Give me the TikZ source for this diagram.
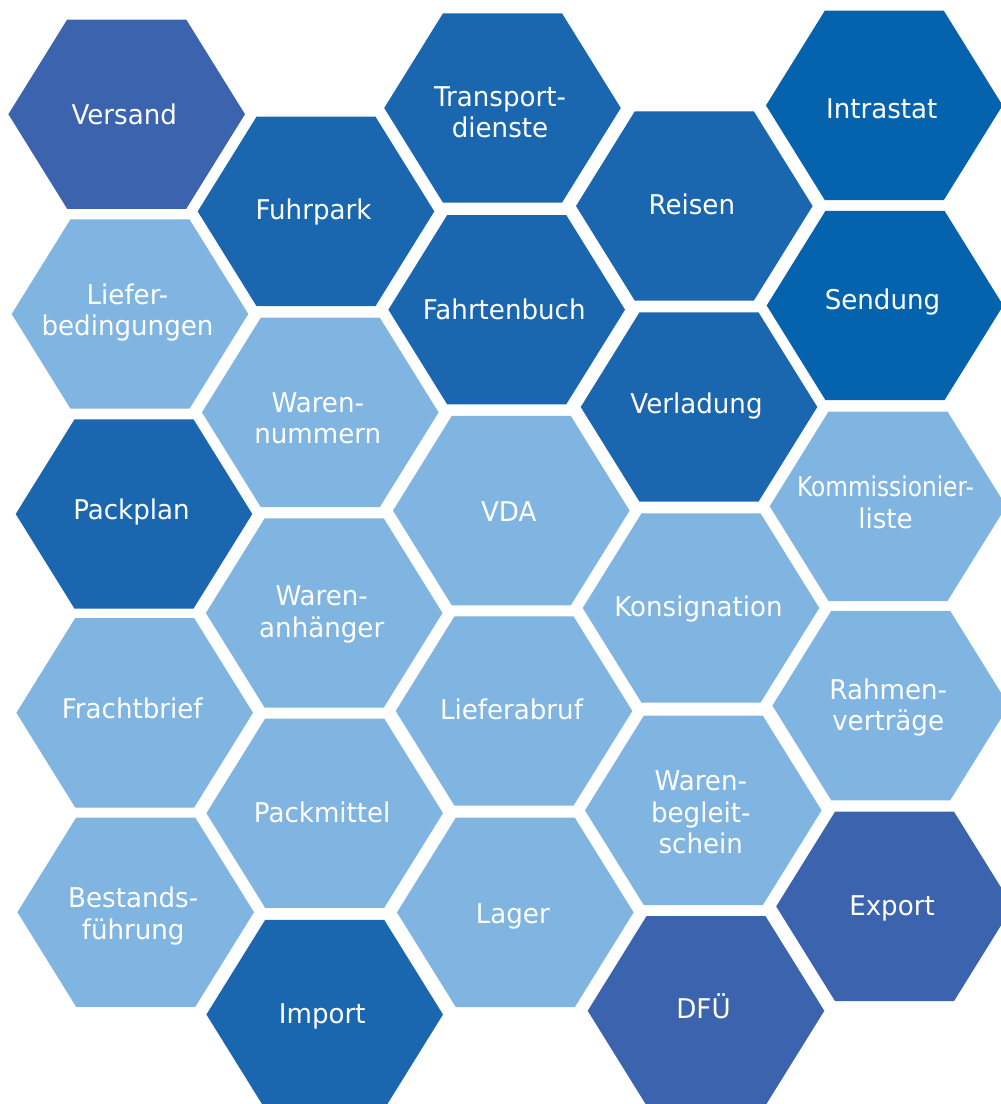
\documentclass[tikz,border=0pt]{standalone}
\usepackage{fontspec}
\setmainfont{DejaVu Sans}[FakeStretch=0.96]
\definecolor{cpurple}{HTML}{3B63AE}
\definecolor{cdark}{HTML}{1A67AF}
\definecolor{cdeep}{HTML}{0563AE}
\definecolor{clight}{HTML}{80B4E1}
\tikzset{
  lblm/.style={text=white, align=center, font=\fontsize{27.2}{31.3}\selectfont, inner sep=0pt},
  lbl/.style={lblm, text height=19.83pt, text depth=0pt},
}
% #1 x, #2 y, #3 name, #4 colour, #5 label style, #6 label y, #7 text
\newcommand\cell[7]{%
  \fill[#4, shift={(#1,#2)}] (-118.3,0) -- (-59.5,-94.7) -- (59.5,-94.7) -- (118.3,0) -- (59.5,94.7) -- (-59.5,94.7) -- cycle;
  \node[#5] (#3) at (#1-2.5,#6) {#7};
}
\begin{document}
\begin{tikzpicture}[x=1pt,y=-1pt]
\useasboundingbox (0,0) rectangle (1001,1104);
\begin{scope}
\clip (0,0) rectangle (1001,1104);
% column 1
\cell{126.7}{114.2}{versand}{cpurple}{lbl}{115}{Versand}
\cell{130}{314}{lieferbed}{clight}{lblm}{312.8}{Liefer-\\bedingungen}
\cell{134}{514}{packplan}{cdark}{lbl}{510}{Packplan}
\cell{134.7}{712.8}{frachtbrief}{clight}{lbl}{709}{Frachtbrief}
\cell{135.7}{912.2}{bestand}{clight}{lblm}{916.1}{Bestands-\\führung}
% column 2
\cell{316}{211.4}{fuhrpark}{cdark}{lbl}{210}{Fuhrpark}
\cell{320.3}{412.4}{warennr}{clight}{lblm}{418.3}{Waren-\\nummern}
\cell{324.2}{613}{warenanh}{clight}{lblm}{614.4}{Waren-\\anhänger}
\cell{324.7}{813.2}{packmittel}{clight}{lbl}{812.3}{Packmittel}
\cell{324.7}{1014.5}{import}{cdark}{lbl}{1013.3}{Import}
% column 3
\cell{502.5}{108}{transport}{cdark}{lblm}{112}{Transport-\\dienste}
\cell{506.7}{309.7}{fahrtenbuch}{cdark}{lbl}{309.3}{Fahrtenbuch}
\cell{511.3}{510.6}{vda}{clight}{lbl}{512}{VDA}
\cell{514}{711}{lieferabruf}{clight}{lbl}{709.3}{Lieferabruf}
\cell{515.3}{912.4}{lager}{clight}{lbl}{913.3}{Lager}
% column 4
\cell{694.3}{206}{reisen}{cdark}{lbl}{204.3}{Reisen}
\cell{699}{407}{verladung}{cdark}{lbl}{403.3}{Verladung}
\cell{701}{608}{konsignation}{clight}{lbl}{606.7}{Konsignation}
\cell{703.3}{810.4}{warenbeg}{clight}{lblm}{812.3}{Waren-\\begleit-\\schein}
\cell{706}{1010.8}{dfue}{cpurple}{lbl}{1008.5}{DFÜ}
% column 5
\cell{884.3}{105.4}{intrastat}{cdeep}{lbl}{109}{Intrastat}
\cell{885}{305.5}{sendung}{cdeep}{lbl}{300}{Sendung}
\cell{888}{506.3}{kommission}{clight}{lblm}{502.4}{\scalebox{0.89}[1]{Kommissionier-}\\liste}
\cell{890.7}{705.6}{rahmen}{clight}{lblm}{707.5}{Rahmen-\\verträge}
\cell{894.5}{906.4}{export}{cpurple}{lbl}{905.7}{Export}
\end{scope}
\end{tikzpicture}
\end{document}
